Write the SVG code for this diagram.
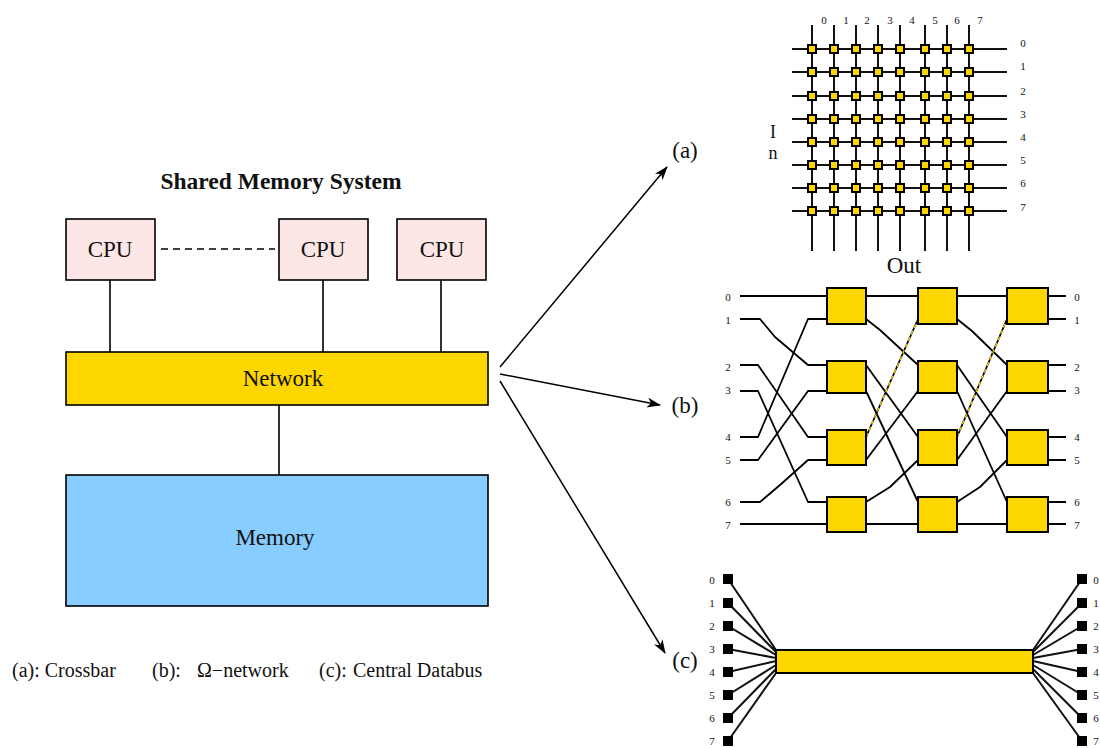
<svg xmlns="http://www.w3.org/2000/svg" width="1100" height="748" viewBox="0 0 1100 748">
<style>
text{font-family:"Liberation Serif","Times New Roman",serif;fill:#111}
.b{stroke:#000;stroke-width:1.6}
.cpu{fill:#fde6e6}.net{fill:#ffd700}.mem{fill:#87cdff}
.l{font-size:23px;text-anchor:middle}
.s{font-size:20px}
.n{font-size:11px;text-anchor:middle;fill:#666}
.w{fill:none;stroke:#000;stroke-width:1.6;stroke-linejoin:round}
.x{fill:none;stroke:#111;stroke-width:2}
.g{fill:none;stroke:#000;stroke-width:2.2}
.sw{fill:#ffd700;stroke:#000;stroke-width:2}
.d{fill:#ffd700;stroke:#000;stroke-width:2}
.t{fill:#000}
.a{fill:none;stroke:#000;stroke-width:1.5;marker-end:url(#arr)}
.gold{fill:none;stroke:#000;stroke-width:1.8}
.gold2{fill:none;stroke:#ffd700;stroke-width:1.2;stroke-dasharray:4 3}
</style>
<defs>
<marker id="arr" markerWidth="14" markerHeight="10" refX="13" refY="5" orient="auto" markerUnits="userSpaceOnUse"><path d="M0 0L14 5L0 10L4 5Z" fill="#000"/></marker>
</defs>
<text x="281" y="189" text-anchor="middle" font-weight="bold" style="font-size:23.5px">Shared Memory System</text>
<g id="connectors">
<path class="w" d="M110 280V352M323 280V352M441 280V352M279 405V475"/>
<path class="w" d="M161 249H275" stroke-dasharray="7 5"/>
<path class="a" d="M500 367L667 167"/>
<path class="a" d="M500 374L660 405"/>
<path class="a" d="M500 381L665 653"/>
</g>
<g id="cpu1"><rect class="cpu b" x="66" y="219" width="89" height="61"/><text class="l" x="110" y="257">CPU</text></g>
<g id="cpu2"><rect class="cpu b" x="279" y="219" width="89" height="61"/><text class="l" x="323" y="257">CPU</text></g>
<g id="cpu3"><rect class="cpu b" x="397" y="219" width="89" height="61"/><text class="l" x="442" y="257">CPU</text></g>
<g id="network"><rect class="net b" x="66" y="352" width="422" height="53"/><text class="l" x="283" y="386">Network</text></g>
<g id="memory"><rect class="mem b" x="66" y="475" width="422" height="131"/><text class="l" x="275" y="545">Memory</text></g>
<g id="legend"><text class="s" x="12" y="677">(a): Crossbar</text><text class="s" x="152" y="677">(b):</text><text class="s" x="197" y="677">Ω−network</text><text class="s" x="319" y="677">(c):</text><text class="s" x="353" y="677">Central Databus</text></g>
<g id="labels"><text class="l" x="685" y="158">(a)</text><text class="l" x="685" y="413">(b)</text><text class="l" x="685" y="668">(c)</text></g>

<g id="crossbar">
<path class="x" d="M812 25V251M834 25V251M856 25V251M878 25V251M900 25V251M925 25V251M947 25V251M969 25V251"/>
<path class="x" d="M792 49H1007M792 72H1007M792 96H1007M792 119H1007M792 142H1007M792 165H1007M792 188H1007M792 211H1007"/>
<g class="d">
<rect x="808" y="45" width="8" height="8"/><rect x="830" y="45" width="8" height="8"/><rect x="852" y="45" width="8" height="8"/><rect x="874" y="45" width="8" height="8"/><rect x="896" y="45" width="8" height="8"/><rect x="921" y="45" width="8" height="8"/><rect x="943" y="45" width="8" height="8"/><rect x="965" y="45" width="8" height="8"/>
<rect x="808" y="68" width="8" height="8"/><rect x="830" y="68" width="8" height="8"/><rect x="852" y="68" width="8" height="8"/><rect x="874" y="68" width="8" height="8"/><rect x="896" y="68" width="8" height="8"/><rect x="921" y="68" width="8" height="8"/><rect x="943" y="68" width="8" height="8"/><rect x="965" y="68" width="8" height="8"/>
<rect x="808" y="92" width="8" height="8"/><rect x="830" y="92" width="8" height="8"/><rect x="852" y="92" width="8" height="8"/><rect x="874" y="92" width="8" height="8"/><rect x="896" y="92" width="8" height="8"/><rect x="921" y="92" width="8" height="8"/><rect x="943" y="92" width="8" height="8"/><rect x="965" y="92" width="8" height="8"/>
<rect x="808" y="115" width="8" height="8"/><rect x="830" y="115" width="8" height="8"/><rect x="852" y="115" width="8" height="8"/><rect x="874" y="115" width="8" height="8"/><rect x="896" y="115" width="8" height="8"/><rect x="921" y="115" width="8" height="8"/><rect x="943" y="115" width="8" height="8"/><rect x="965" y="115" width="8" height="8"/>
<rect x="808" y="138" width="8" height="8"/><rect x="830" y="138" width="8" height="8"/><rect x="852" y="138" width="8" height="8"/><rect x="874" y="138" width="8" height="8"/><rect x="896" y="138" width="8" height="8"/><rect x="921" y="138" width="8" height="8"/><rect x="943" y="138" width="8" height="8"/><rect x="965" y="138" width="8" height="8"/>
<rect x="808" y="161" width="8" height="8"/><rect x="830" y="161" width="8" height="8"/><rect x="852" y="161" width="8" height="8"/><rect x="874" y="161" width="8" height="8"/><rect x="896" y="161" width="8" height="8"/><rect x="921" y="161" width="8" height="8"/><rect x="943" y="161" width="8" height="8"/><rect x="965" y="161" width="8" height="8"/>
<rect x="808" y="184" width="8" height="8"/><rect x="830" y="184" width="8" height="8"/><rect x="852" y="184" width="8" height="8"/><rect x="874" y="184" width="8" height="8"/><rect x="896" y="184" width="8" height="8"/><rect x="921" y="184" width="8" height="8"/><rect x="943" y="184" width="8" height="8"/><rect x="965" y="184" width="8" height="8"/>
<rect x="808" y="207" width="8" height="8"/><rect x="830" y="207" width="8" height="8"/><rect x="852" y="207" width="8" height="8"/><rect x="874" y="207" width="8" height="8"/><rect x="896" y="207" width="8" height="8"/><rect x="921" y="207" width="8" height="8"/><rect x="943" y="207" width="8" height="8"/><rect x="965" y="207" width="8" height="8"/>
</g>
<g class="n"><text x="824" y="24">0</text><text x="846" y="24">1</text><text x="867" y="24">2</text><text x="890" y="24">3</text><text x="912" y="24">4</text><text x="935" y="24">5</text><text x="957" y="24">6</text><text x="980" y="24">7</text>
<text x="1023" y="47">0</text><text x="1023" y="70">1</text><text x="1023" y="95">2</text><text x="1023" y="118">3</text><text x="1023" y="141">4</text><text x="1023" y="164">5</text><text x="1023" y="187">6</text><text x="1023" y="211">7</text></g>
<text text-anchor="middle" style="font-size:18px"><tspan x="773" y="138">I</tspan><tspan x="773" y="159">n</tspan></text>
<text class="l" x="904" y="273">Out</text>
</g>

<g id="omega">
<path class="g" d="M740 296H1007M740 524H1007M1048 296H1066M1048 319H1066M1048 365H1066M1048 391H1066M1048 437H1066M1048 460H1066M1048 502H1066M1048 524H1066"/>
<g class="w" style="stroke-width:1.8">
<path d="M740 319H760L775 337L808 365H827"/>
<path d="M740 365H758L808 437H827"/>
<path d="M740 391H758L808 502H827"/>
<path d="M740 437H758L808 319H827"/>
<path d="M740 460H758L808 391H827"/>
<path d="M740 502H760L780 485L808 460H827"/>
<path d="M866 319L880 330L918 365"/>
<path d="M866 365L918 437"/>
<path d="M866 391L918 502"/>
<path d="M866 460L918 391"/>
<path d="M866 502L890 487L918 460"/>
<path d="M957 319L972 331L1007 365"/>
<path d="M957 365L1007 437"/>
<path d="M957 391L1007 502"/>
<path d="M957 460L1007 391"/>
<path d="M957 502L980 487L1007 460"/>
</g>
<path class="gold" d="M866 437L918 319M957 437L1007 319"/>
<path class="gold2" d="M866 437L918 319M957 437L1007 319"/>
<g class="sw">
<rect x="827" y="288" width="39" height="36"/><rect x="827" y="361" width="39" height="32"/><rect x="827" y="430" width="39" height="35"/><rect x="827" y="497" width="39" height="35"/>
<rect x="918" y="288" width="39" height="36"/><rect x="918" y="361" width="39" height="32"/><rect x="918" y="430" width="39" height="35"/><rect x="918" y="497" width="39" height="35"/>
<rect x="1007" y="288" width="41" height="36"/><rect x="1007" y="361" width="41" height="32"/><rect x="1007" y="430" width="41" height="35"/><rect x="1007" y="497" width="41" height="35"/>
</g>
<g class="n"><text x="728" y="301">0</text><text x="728" y="324">1</text><text x="728" y="371">2</text><text x="728" y="394">3</text><text x="728" y="441">4</text><text x="728" y="464">5</text><text x="728" y="506">6</text><text x="728" y="529">7</text>
<text x="1077" y="301">0</text><text x="1077" y="324">1</text><text x="1077" y="371">2</text><text x="1077" y="394">3</text><text x="1077" y="441">4</text><text x="1077" y="464">5</text><text x="1077" y="506">6</text><text x="1077" y="529">7</text></g>
</g>

<g id="bus">
<path class="x" d="M728 579L776 650M728 603L776 652M728 626L776 655M728 649L776 658M728 672L776 661M728 695L776 665M728 718L776 669M728 741L776 673M1082 579L1033 650M1082 603L1033 652M1082 626L1033 655M1082 649L1033 658M1082 672L1033 661M1082 695L1033 665M1082 718L1033 669M1082 741L1033 673"/>
<rect class="sw" x="776" y="650" width="257" height="23"/>
<g class="t">
<rect x="723" y="574" width="10" height="10"/><rect x="723" y="598" width="10" height="10"/><rect x="723" y="621" width="10" height="10"/><rect x="723" y="644" width="10" height="10"/><rect x="723" y="667" width="10" height="10"/><rect x="723" y="690" width="10" height="10"/><rect x="723" y="713" width="10" height="10"/><rect x="723" y="736" width="10" height="10"/>
<rect x="1077" y="574" width="10" height="10"/><rect x="1077" y="598" width="10" height="10"/><rect x="1077" y="621" width="10" height="10"/><rect x="1077" y="644" width="10" height="10"/><rect x="1077" y="667" width="10" height="10"/><rect x="1077" y="690" width="10" height="10"/><rect x="1077" y="713" width="10" height="10"/><rect x="1077" y="736" width="10" height="10"/>
</g>
<g class="n"><text x="712" y="584">0</text><text x="712" y="607">1</text><text x="712" y="630">2</text><text x="712" y="653">3</text><text x="712" y="676">4</text><text x="712" y="699">5</text><text x="712" y="722">6</text><text x="712" y="745">7</text>
<text x="1096" y="584">0</text><text x="1096" y="607">1</text><text x="1096" y="630">2</text><text x="1096" y="653">3</text><text x="1096" y="676">4</text><text x="1096" y="699">5</text><text x="1096" y="722">6</text><text x="1096" y="745">7</text></g>
</g>
</svg>
